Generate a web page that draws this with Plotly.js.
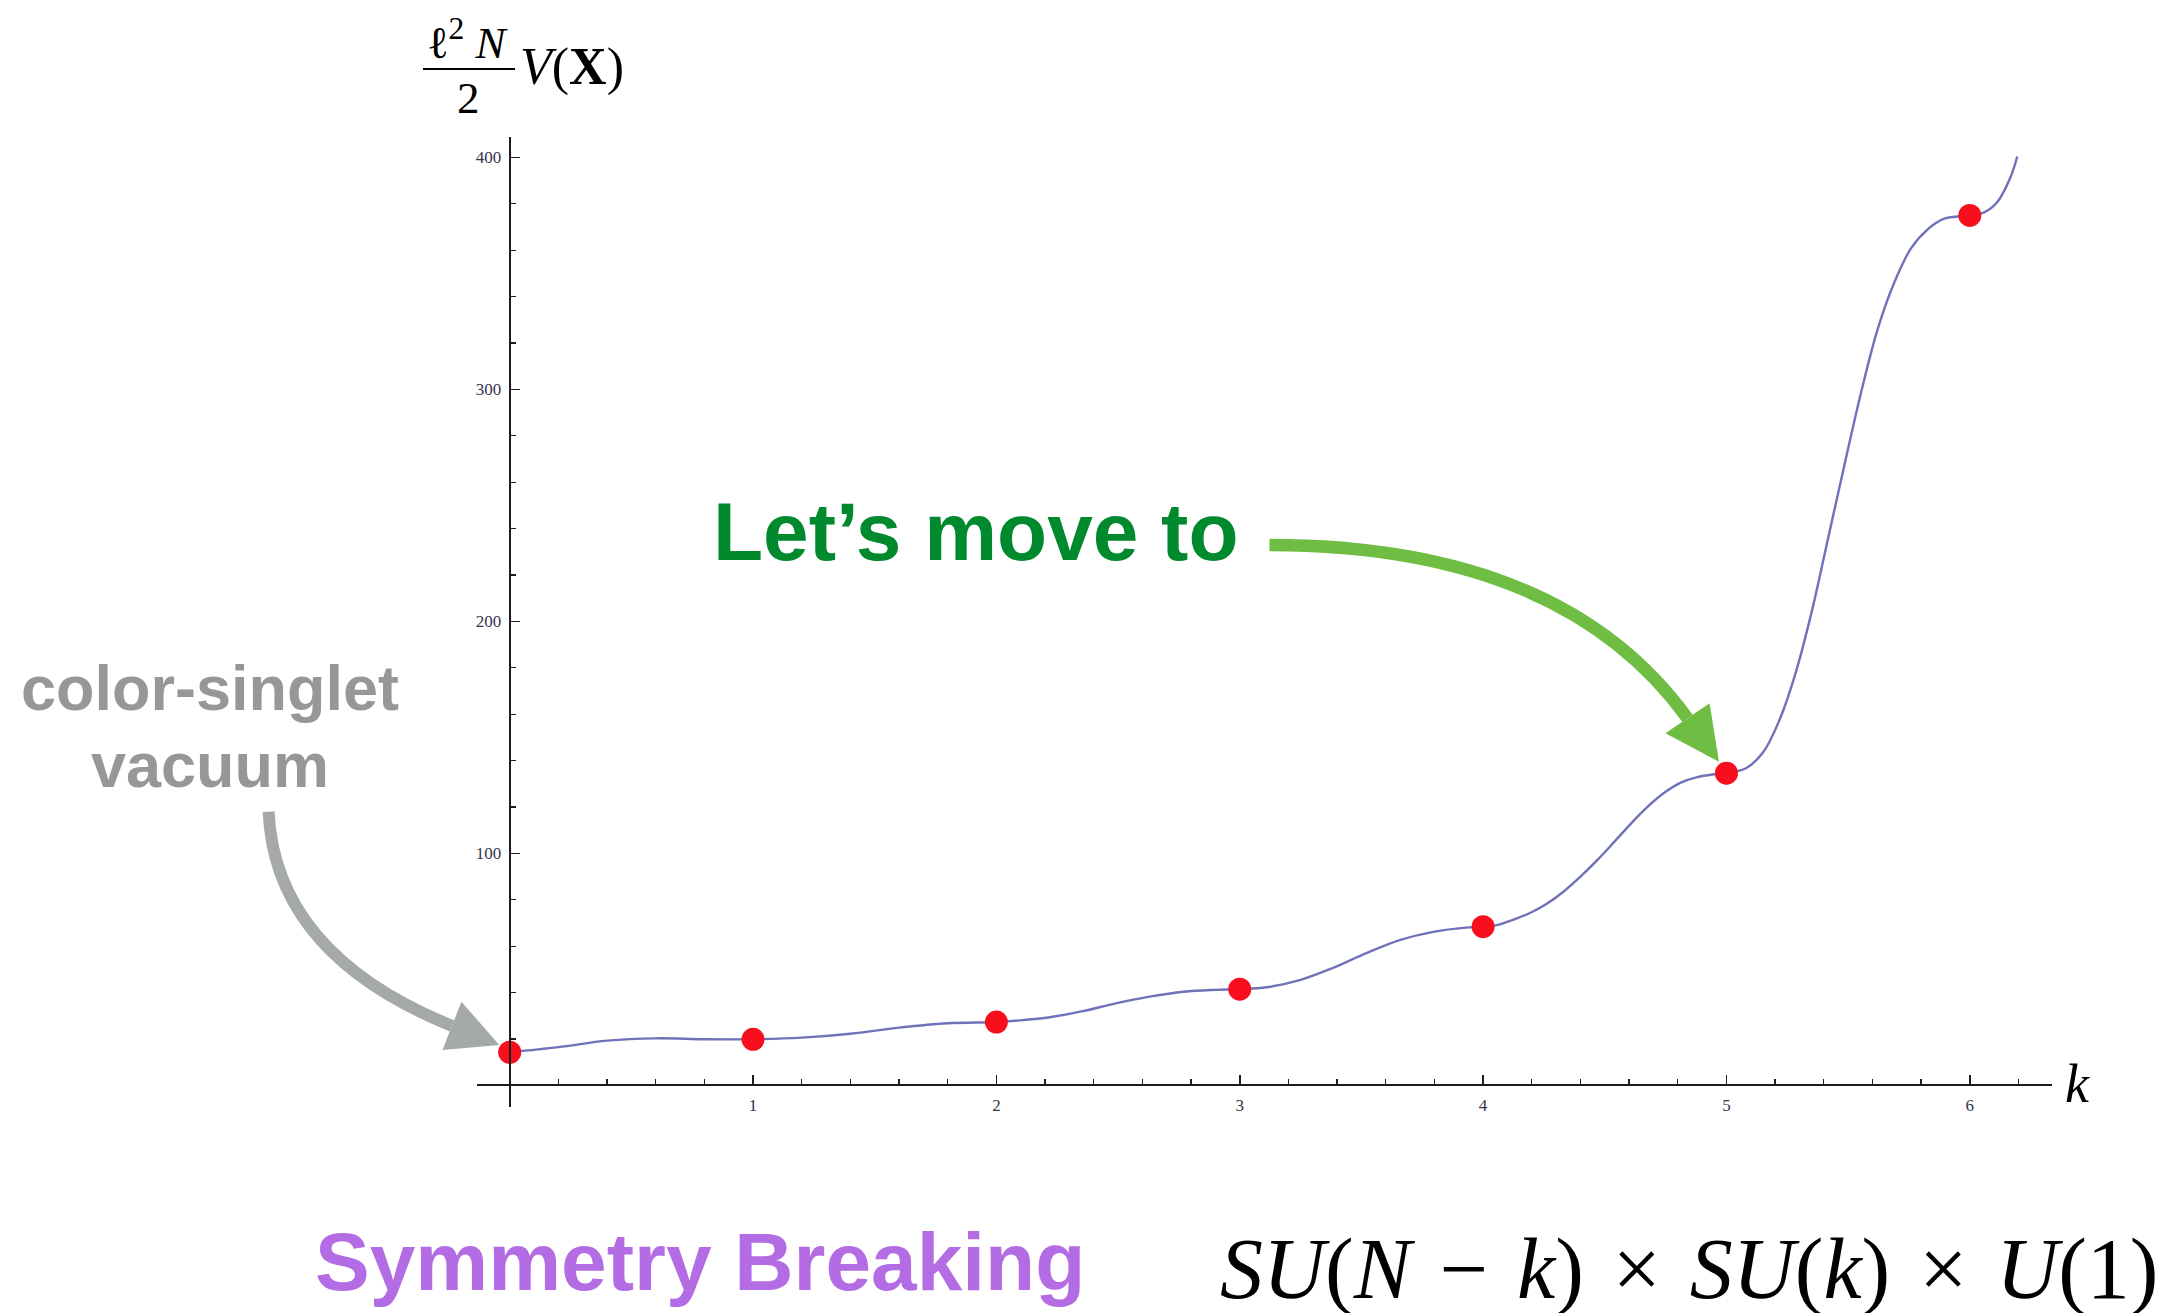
<!DOCTYPE html>
<html>
<head>
<meta charset="utf-8">
<script src="https://cdn.plot.ly/plotly-3.0.1.min.js"></script>
<style>
html,body{margin:0;padding:0;background:#ffffff;}
#chart{width:2173px;height:1313px;}
</style>
</head>
<body>
<div id="chart"></div>
<script>
// ---- data ----
const pointK = [0, 1, 2, 3, 4, 5, 6];
const pointV = [14.3, 19.9, 27.3, 41.5, 68.4, 134.6, 375.0];

const curveK = [0, 0.2, 0.4, 0.6, 0.8, 1.0, 1.2, 1.4, 1.6, 1.8, 2.0, 2.08, 2.22, 2.36, 2.49, 2.63, 2.77, 2.9, 3.0,
  3.11, 3.25, 3.38, 3.52, 3.66, 3.8, 3.93, 4.0, 4.06, 4.12, 4.19, 4.26, 4.33, 4.4, 4.47, 4.54, 4.6, 4.67,
  4.74, 4.81, 4.88, 4.95, 5.0, 5.08, 5.15, 5.214, 5.282, 5.35, 5.418, 5.486, 5.554, 5.623, 5.691, 5.759, 5.827, 5.895,
  6.0, 6.059, 6.113, 6.168, 6.195];
const curveV = [14.3, 16.5, 19.3, 20.3, 19.9, 19.9, 20.6, 22.3, 24.9, 26.8, 27.3, 27.9, 29.4, 32.1, 35.4, 38.3, 40.4, 41.2, 41.5,
  42.3, 45.5, 50.5, 57.0, 62.7, 66.3, 68.0, 68.4, 69.2, 71.3, 74.2, 78.2, 83.5, 90.0, 97.2, 105.1, 112.0, 119.5,
  125.8, 130.4, 132.9, 134.1, 134.6, 136.7, 143.5, 156.5, 177.0, 204.0, 236.0, 268.0, 299.0, 326.5, 346.4, 360.9, 369.0, 373.6,
  375.0, 376.3, 380.8, 391.7, 400.4];

const xTickVals = [1, 2, 3, 4, 5, 6];
const xTickText = ['1', '2', '3', '4', '5', '6'];
const yTickVals = [100, 200, 300, 400];
const yTickText = ['100', '200', '300', '400'];

const xTitle = '<i>k</i>';
const yTitleNum = 'ℓ<sup>2</sup> <i>N</i>';
const yTitleDen = '2';
const yTitleRest = '<i>V</i>(<b>X</b>)';
const labelVacuum = ['color-singlet', 'vacuum'];
const labelMove = 'Let’s move to';
const labelSymmetry = 'Symmetry Breaking';
const labelGroup = '<i>SU</i>(<i>N</i>\u2004−\u2004<i>k</i>)\u2004×\u2004<i>SU</i>(<i>k</i>)\u2004×\u2004<i>U</i>(1)';

// ---- layout geometry ----
const W = 2173, H = 1313;
const M = {l: 477, r: 121, t: 137, b: 206};
const PW = W - M.l - M.r, PH = H - M.t - M.b;
const xRange = [-0.1344, 6.3378];
const yRange = [-9.3, 408.8];
function px(x) { return (x - M.l) / PW; }
function py(y) { return (H - M.b - y) / PH; }
function P(x, y) { return px(x).toFixed(5) + ',' + py(y).toFixed(5); }

const serif = 'Liberation Serif, DejaVu Serif, serif';
const sans = 'Liberation Sans, Arial, Helvetica, sans-serif';
const axisColor = '#1c1c1c';

const traces = [
  {
    x: curveK, y: curveV, type: 'scatter', mode: 'lines',
    line: {color: '#6f72b9', width: 2.4, shape: 'spline', smoothing: 1},
    hoverinfo: 'skip', showlegend: false
  },
  {
    x: pointK, y: pointV, type: 'scatter', mode: 'markers',
    marker: {color: '#f80f1e', size: 23, line: {width: 0}},
    showlegend: false, cliponaxis: false
  }
];

function ann(text, x, y, size, color, family, xanchor, weight) {
  const f = {family: family, size: size, color: color};
  if (weight) f.weight = weight;
  return {
    text: text, xref: 'paper', yref: 'paper', x: px(x), y: py(y),
    xanchor: xanchor, yanchor: 'middle', showarrow: false,
    font: f, borderpad: 0
  };
}

const annotations = [
  ann(labelVacuum[0], 210, 688, 63, '#959897', sans, 'center', 'bold'),
  ann(labelVacuum[1], 210, 765, 63, '#959897', sans, 'center', 'bold'),
  ann(labelMove, 712, 531.6, 82, '#00892d', sans, 'left', 'bold'),
  ann(labelSymmetry, 314, 1261.6, 82, '#b46ce4', sans, 'left', 'bold'),
  ann(labelGroup, 1219, 1268.7, 86, '#000000', serif, 'left'),
  ann(yTitleNum, 468, 40, 45, '#000000', serif, 'center'),
  ann(yTitleDen, 468, 98, 45, '#000000', serif, 'center'),
  ann(yTitleRest, 519, 67, 52, '#000000', serif, 'left'),
  ann(xTitle, 2064, 1083.5, 54, '#000000', serif, 'left')
];

const shapes = [
  // fraction bar of the y title
  {type: 'line', xref: 'paper', yref: 'paper', x0: px(423), x1: px(515), y0: py(69), y1: py(69),
   line: {color: '#000000', width: 1.8}},
  // green curved arrow
  {type: 'path', xref: 'paper', yref: 'paper', layer: 'below',
   path: 'M' + P(1269.5, 545) + ' Q' + P(1562, 545) + ' ' + P(1687.5, 718.3),
   line: {color: '#70bd44', width: 12.5}, fillcolor: 'rgba(0,0,0,0)'},
  {type: 'path', xref: 'paper', yref: 'paper', layer: 'below',
   path: 'M' + P(1665.4, 733.3) + ' L' + P(1719, 761.7) + ' L' + P(1709.6, 703.3) + ' Z',
   line: {width: 0}, fillcolor: '#70bd44'},
  // grey curved arrow
  {type: 'path', xref: 'paper', yref: 'paper', layer: 'below',
   path: 'M' + P(268.6, 811.7) + ' Q' + P(275, 954) + ' ' + P(452, 1025.9),
   line: {color: '#a5a9a7', width: 12}, fillcolor: 'rgba(0,0,0,0)'},
  {type: 'path', xref: 'paper', yref: 'paper', layer: 'below',
   path: 'M' + P(461.4, 1001.7) + ' L' + P(499.3, 1045) + ' L' + P(442.5, 1050) + ' Z',
   line: {width: 0}, fillcolor: '#a5a9a7'}
];

const tickFont = {family: serif, size: 17, color: '#35354a'};

const layout = {
  width: W, height: H,
  margin: M,
  paper_bgcolor: '#ffffff',
  plot_bgcolor: 'rgba(0,0,0,0)',
  showlegend: false,
  xaxis: {
    range: xRange, anchor: 'free', position: (0 - yRange[0]) / (yRange[1] - yRange[0]),
    showline: true, linecolor: axisColor, linewidth: 2,
    showgrid: false, zeroline: false,
    ticks: 'inside', ticklen: 9, tickwidth: 1.5, tickcolor: axisColor,
    tickmode: 'array', tickvals: xTickVals, ticktext: xTickText,
    tickfont: tickFont, ticklabelstandoff: 4,
    minor: {tickmode: 'linear', tick0: 0, dtick: 0.2, ticks: 'inside', ticklen: 5, tickwidth: 1.3, tickcolor: axisColor, showgrid: false},
    fixedrange: true
  },
  yaxis: {
    range: yRange, anchor: 'free', position: (0 - xRange[0]) / (xRange[1] - xRange[0]),
    showline: true, linecolor: axisColor, linewidth: 2,
    showgrid: false, zeroline: false,
    ticks: 'inside', ticklen: 9, tickwidth: 1.5, tickcolor: axisColor,
    tickmode: 'array', tickvals: yTickVals, ticktext: yTickText,
    tickfont: tickFont, ticklabelstandoff: 4,
    minor: {tickmode: 'linear', tick0: 0, dtick: 20, ticks: 'inside', ticklen: 5, tickwidth: 1.3, tickcolor: axisColor, showgrid: false},
    fixedrange: true
  },
  annotations: annotations,
  shapes: shapes
};

Plotly.newPlot('chart', traces, layout, {staticPlot: true, displayModeBar: false});
</script>
</body>
</html>
